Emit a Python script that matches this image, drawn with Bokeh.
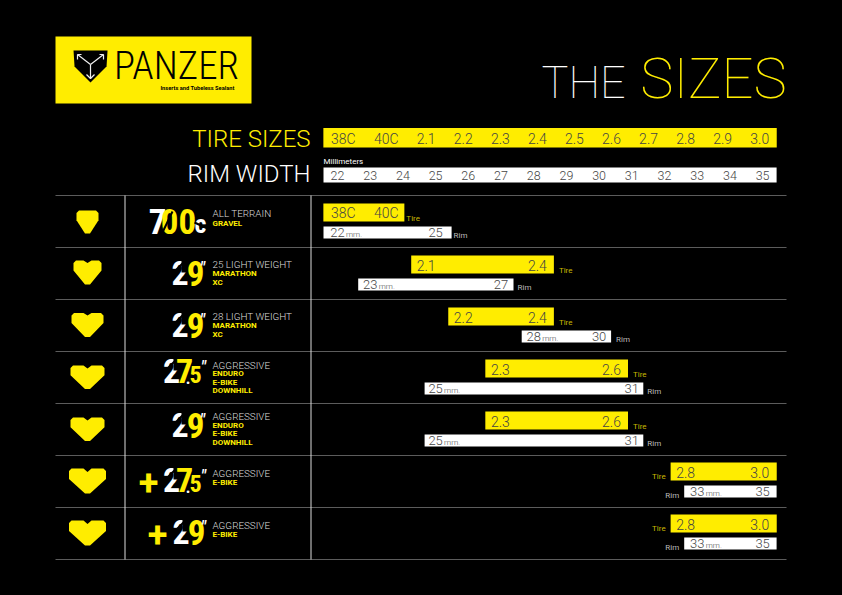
from bokeh.plotting import figure
from bokeh.embed import file_html
from bokeh.resources import INLINE
from bokeh.core.properties import value
from bokeh.models import Range1d

# ---------- data ----------
TIRE_SIZES = ["38C", "40C", "2.1", "2.2", "2.3", "2.4", "2.5", "2.6", "2.7", "2.8", "2.9", "3.0"]
TIRE_SLOTS = [-2.235, -1.075, 0, 1, 2, 3, 4, 5, 6, 7, 8, 9]
RIM_WIDTHS = [22, 23, 24, 25, 26, 27, 28, 29, 30, 31, 32, 33, 34, 35]

ROW_TIRE_FROM = ["38C", "2.1", "2.2", "2.3", "2.3", "2.8", "2.8"]
ROW_TIRE_TO = ["40C", "2.4", "2.4", "2.6", "2.6", "3.0", "3.0"]
ROW_RIM_FROM = [22, 23, 28, 25, 25, 33, 33]
ROW_RIM_TO = [25, 27, 30, 31, 31, 35, 35]
ROW_TITLES = ["ALL TERRAIN", "25 LIGHT WEIGHT", "28 LIGHT WEIGHT", "AGGRESSIVE", "AGGRESSIVE", "AGGRESSIVE", "AGGRESSIVE"]
ROW_USES = [["GRAVEL"], ["MARATHON", "XC"], ["MARATHON", "XC"],
            ["ENDURO", "E-BIKE", "DOWNHILL"], ["ENDURO", "E-BIKE", "DOWNHILL"], ["E-BIKE"], ["E-BIKE"]]
ROW_WHEEL = ["700c", "29", "29", "27.5", "29", "+27.5", "+29"]

# ---------- layout ----------
Y = "#FFED00"
W = "#FFFFFF"
DARK = "#444444"
ROW_TOP = [195, 247, 299, 351, 403, 455, 507]
ROW_BOTTOM = 559
BAR_OFF = [8, 8, 8, 8, 8, 7, 7]
TIRE_PAD = [(20, 18), (15, 16.5), (15, 16.5), (15, 16.5), (15, 16.5), (15, 17), (15, 17)]
RIM_PAD = [(14, 16), (12, 12.5), (12, 12), (11, 11.5), (11, 11.5), (13, 14), (13, 14)]
TIRE_GAP = [2, 5, 5, 5, 5, 5, 5]
RIM_GAP = [2, 4, 5, 4, 4, 5, 5]
ICON_W = [11, 14, 16, 17, 17, 18.5, 18.5]
ICON_TOP = [15, 13, 13.5, 14, 14, 13, 13]
ICON_H = [23, 24, 24, 23.5, 23.5, 25, 25]
ICON_NOTCH = [0, 2.5, 2.5, 3, 3, 3.5, 3.5]
LINE1 = [18, 17, 17, 13.5, 13, 18, 18]
LINE_STEP = [9.5, 9, 9, 8.5, 8.5, 9, 9]
WHEEL_BASE = [38, 38, 38, 32, 34, 37, 37]

PW, PH = 842, 595
p = figure(width=PW, height=PH, output_backend="svg", toolbar_location=None,
           x_range=Range1d(0, PW), y_range=Range1d(PH, 0),
           min_border=0, background_fill_color="#000000", border_fill_color="#000000",
           outline_line_color=None)
p.axis.visible = False
p.grid.visible = False

# scales: page pixels, tire slot, rim mm
TIRE_0, TIRE_STEP = 425.7, 37.06
RIM_0, RIM_STEP = 337.0, 32.7
p.extra_x_ranges = {
    "tire": Range1d((0 - TIRE_0) / TIRE_STEP, (PW - TIRE_0) / TIRE_STEP),
    "rim": Range1d(22 + (0 - RIM_0) / RIM_STEP, 22 + (PW - RIM_0) / RIM_STEP),
}
slot = dict(zip(TIRE_SIZES, TIRE_SLOTS))


def t(x, y, s, font="Roboto", size=12, color=W, align="left", base="middle", style="normal", rng="default"):
    if base == "alphabetic":           # y given as the letters' foot
        y, base = y - 0.355 * size, "middle"
    p.text([x], [y], text=[s], text_font=value(font), text_font_size=f"{size}px", text_color=color,
           text_align=align, text_baseline=base, text_font_style=style, x_range_name=rng)


def bar(l, r, top, h, color, rng):
    p.quad(left=[l], right=[r], top=[top], bottom=[top + h], fill_color=color, line_color=None, x_range_name=rng)


def poly(xs, ys, color):
    p.patch(xs, ys, fill_color=color, line_color=None)


def cut(xs, ys, w=2.2):
    p.line(xs, ys, line_color="#000000", line_width=w)


# ---------- logo ----------
p.quad(left=[55], right=[251], top=[36], bottom=[103], fill_color=Y, line_color=None)
poly([73, 107, 106, 90, 74], [50, 50, 66, 82, 66], "#000000")
for xs, ys in [([90, 77, 81], [64, 54, 54]), ([90, 103, 99], [64, 54, 54]), ([90, 90], [64, 78]),
               ([77, 77], [54, 59]), ([103, 103], [54, 59]), ([86, 90, 94], [74, 78, 74])]:
    p.line(xs, ys, line_color="#EEEEEE", line_width=1.2)
t(176, 65, "PANZER", "Roboto Condensed Light", 39, "#000000", "center")
t(234, 87, "Inserts and Tubeless Sealant", "Roboto", 5.7, "#000000", "right", style="bold")

# ---------- heading ----------
t(541, 98, "THE", "Roboto Thin", 45, W, base="alphabetic")
t(786, 98, "SIZES", "Roboto Thin", 56, Y, "right", base="alphabetic")
t(310, 138, "TIRE SIZES", "Roboto Light", 24, Y, "right")
t(310, 173, "RIM WIDTH", "Roboto Light", 24, W, "right")
t(323, 161, "Millimeters", "Roboto", 8, W)

# ---------- scale strips ----------
bar(TIRE_SLOTS[0] - 20 / TIRE_STEP, TIRE_SLOTS[-1] + 17 / TIRE_STEP, 127.5, 19.5, Y, "tire")
bar(RIM_WIDTHS[0] - 14 / RIM_STEP, RIM_WIDTHS[-1] + 14 / RIM_STEP, 167, 15, W, "rim")
for n, s in zip(TIRE_SIZES, TIRE_SLOTS):
    t(s, 138, n, "Roboto Light", 14, DARK, "center", rng="tire")
for r in RIM_WIDTHS:
    t(r, 174.5, str(r), "Roboto Light", 12.5, DARK, "center", rng="rim")

# ---------- rules ----------
for y in ROW_TOP + [ROW_BOTTOM]:
    p.line([55, 786], [y, y], line_color="#5c5c5c", line_width=1.2)
for x in (124.5, 310.5):
    p.line([x, x], [ROW_TOP[0], ROW_BOTTOM], line_color="#DDDDDD", line_width=1)

# ---------- rows ----------
def wheel_logo(kind, top, base):
    if kind == "700c":
        t(157, base, "7", "Roboto Condensed", 35, W, "center", "alphabetic", "bold")
        t(178, base, "00", "Roboto Condensed", 35, Y, "center", "alphabetic", "bold")
        cut([161, 172], [base + 1, base - 22], 2)
        t(200, base, "c", "Roboto Condensed", 26, W, "center", "alphabetic", "bold")
        cut([194, 207], [base - 11, base - 5], 2)
        return
    plus = kind.startswith("+")
    kind = kind.lstrip("+")
    if kind == "29":
        dx = 1 if plus else 0
        if plus:
            t(157, base - 11, "+", "Roboto", 36, Y, "center", style="bold")
        t(179.5 + dx, base, "2", "Roboto Condensed", 34, W, "center", "alphabetic", "bold")
        cut([172 + dx, 183 + dx], [base - 12, base - 23], 2.2)
        poly([181 + dx, 188 + dx, 188 + dx, 181 + dx], [base - 26, base - 26, base - 13, base - 13], "#000000")
        t(195 + dx, base, "9", "Roboto Condensed", 35, Y, "center", "alphabetic", "bold")
        t(202 + dx, base - 12, '"', "Roboto", 16, W, "center", "alphabetic", "bold italic")
    else:
        if plus:
            t(148, base - 11, "+", "Roboto", 36, Y, "center", style="bold")
        t(171, base, "2", "Roboto Condensed", 34, W, "center", "alphabetic", "bold")
        cut([164, 175], [base - 12, base - 23], 2.2)
        poly([173, 179, 179, 173], [base - 26, base - 26, base - 13, base - 13], "#000000")
        t(184, base, "7", "Roboto Condensed", 34, Y, "center", "alphabetic", "bold")
        t(187.5, base, ".", "Roboto Condensed", 16, W, "center", "alphabetic", "bold")
        t(195, base, "5", "Roboto Condensed", 24, Y, "center", "alphabetic", "bold")
        t(203, base - 11, '"', "Roboto", 16, W, "center", "alphabetic", "bold italic")


for i, top in enumerate(ROW_TOP):
    # insert icon
    w, a, h, n = ICON_W[i], top + ICON_TOP[i], ICON_H[i], ICON_NOTCH[i]
    cx = 87
    xs = [cx - w, cx - w + 2.5, cx - 4, cx, cx + 4, cx + w - 2.5, cx + w, cx + w, cx + 2.5, cx - 2.5, cx - w]
    ys = [a + 2.5, a, a, a + n, a, a, a + 2.5, a + h * 0.42, a + h, a + h, a + h * 0.42]
    poly(xs, ys, Y)

    wheel_logo(ROW_WHEEL[i], top, top + WHEEL_BASE[i])

    # description
    t(212, top + LINE1[i], ROW_TITLES[i], "Roboto Light", 9.9, "#DDDDDD")
    for j, use in enumerate(ROW_USES[i]):
        t(212, top + LINE1[i] + LINE_STEP[i] * (j + 1), use, "Roboto", 8, Y, style="bold")

    # tire bar
    s0, s1 = slot[ROW_TIRE_FROM[i]], slot[ROW_TIRE_TO[i]]
    tp, rp = TIRE_PAD[i], RIM_PAD[i]
    ty = top + BAR_OFF[i]
    bar(s0 - tp[0] / TIRE_STEP, s1 + tp[1] / TIRE_STEP, ty, 18, Y, "tire")
    t(s0, ty + 9.5, ROW_TIRE_FROM[i], "Roboto Light", 14, DARK, "center", rng="tire")
    t(s1, ty + 9.5, ROW_TIRE_TO[i], "Roboto Light", 14, DARK, "center", rng="tire")

    # rim bar
    r0, r1 = ROW_RIM_FROM[i], ROW_RIM_TO[i]
    ry = ty + 23
    bar(r0 - rp[0] / RIM_STEP, r1 + rp[1] / RIM_STEP, ry, 12, W, "rim")
    t(r0, ry + 6, str(r0), "Roboto Light", 13, DARK, "center", rng="rim")
    t(r1, ry + 6, str(r1), "Roboto Light", 13, DARK, "center", rng="rim")
    t(r0 + 8.5 / RIM_STEP, ry + 7.5, "mm.", "Roboto Light", 8, DARK, rng="rim")

    # bar captions
    if i < 5:
        t(s1 + (tp[1] + TIRE_GAP[i]) / TIRE_STEP, ty + 15, "Tire", "Roboto", 8, "#C9B900", rng="tire")
        t(r1 + (rp[1] + RIM_GAP[i]) / RIM_STEP, ry + 9, "Rim", "Roboto", 8, "#BBBBBB", rng="rim")
    else:
        t(s0 - (tp[0] + TIRE_GAP[i]) / TIRE_STEP, ty + 14, "Tire", "Roboto", 8, "#C9B900", "right", rng="tire")
        t(r0 - (rp[0] + RIM_GAP[i]) / RIM_STEP, ry + 10, "Rim", "Roboto", 8, "#BBBBBB", "right", rng="rim")

html = file_html(p, INLINE)
html = html.replace("<head>", "<head><style>html,body{margin:0;background:#000000;overflow:hidden}</style>", 1)
open("out.html", "w").write(html)
